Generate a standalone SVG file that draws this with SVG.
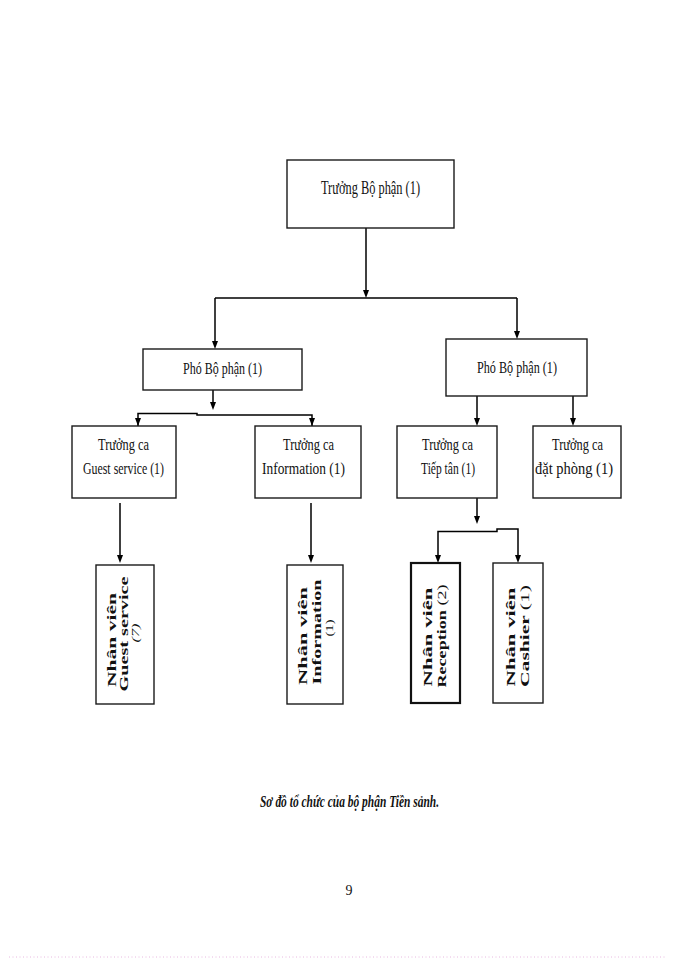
<svg xmlns="http://www.w3.org/2000/svg" width="700" height="960" viewBox="0 0 700 960">
<defs>
<style>
.box{fill:#fff;stroke:#1a1a1a;stroke-width:1.4}
.boxb{fill:#fff;stroke:#111;stroke-width:2.2}
.lbl{font-family:"Liberation Serif","Times New Roman",serif;fill:#111;text-anchor:middle}
.rot{font-family:"Liberation Serif","Times New Roman",serif;font-weight:bold;fill:#111;text-anchor:middle;font-size:12.5px}
.num{font-weight:normal;font-size:11px}
.ln{stroke:#000;stroke-width:1.5;fill:none}
.ah{fill:#000}
.cap{font-family:"Liberation Serif","Times New Roman",serif;font-weight:bold;font-style:italic;fill:#111;text-anchor:middle;font-size:17px}
</style>
</defs>
<rect width="700" height="960" fill="#fff"/>

<g id="connectors">
<path class="ln" d="M366,228 V290"/>
<path class="ah" d="M363,290 L369,290 L366,298 Z"/>
<path class="ln" d="M215,298 H517" stroke-width="2"/>
<path class="ln" d="M215,298 V341"/>
<path class="ah" d="M212,341 L218,341 L215,349 Z"/>
<path class="ln" d="M517,298 V331"/>
<path class="ah" d="M514,331 L520,331 L517,339 Z"/>

<path class="ln" d="M213,390 V402"/>
<path class="ah" d="M210,402 L216,402 L213,410 Z"/>
<path class="ln" d="M138,426 V413.5 H197 V415 H312 V426" stroke-width="1.6"/>
<path class="ah" d="M135,418 L141,418 L138,426 Z"/>
<path class="ah" d="M309,418 L315,418 L312,426 Z"/>

<path class="ln" d="M477,396 V418"/>
<path class="ah" d="M474,418 L480,418 L477,426 Z"/>
<path class="ln" d="M573,396 V418"/>
<path class="ah" d="M570,418 L576,418 L573,426 Z"/>

<path class="ln" d="M120,503 V555" stroke-width="1"/>
<path class="ah" d="M117,555 L123,555 L120,563 Z"/>
<path class="ln" d="M311,503 V555" stroke-width="1.8"/>
<path class="ah" d="M308,555 L314,555 L311,563 Z"/>

<path class="ln" d="M477,498 V516"/>
<path class="ah" d="M474,516 L480,516 L477,524 Z"/>
<path class="ln" d="M438,555 V531.5 H497 V529 H518 V555" stroke-width="1.8"/>
<path class="ah" d="M435,555 L441,555 L438,563 Z"/>
<path class="ah" d="M515,555 L521,555 L518,563 Z"/>
</g>

<g id="truong-bo-phan">
<rect class="box" x="287" y="160" width="167" height="68"/>
<text class="lbl" x="370.5" y="194" font-size="18" textLength="99" lengthAdjust="spacingAndGlyphs">Trưởng Bộ phận (1)</text>
</g>

<g id="pho-bo-phan-1">
<rect class="box" x="143" y="349" width="159" height="41"/>
<text class="lbl" x="222.5" y="374" font-size="17" textLength="79" lengthAdjust="spacingAndGlyphs">Phó Bộ phận (1)</text>
</g>

<g id="pho-bo-phan-2">
<rect class="box" x="446" y="339" width="141" height="57"/>
<text class="lbl" x="517" y="373" font-size="17" textLength="80" lengthAdjust="spacingAndGlyphs">Phó Bộ phận (1)</text>
</g>

<g id="truong-ca-guest">
<rect class="box" x="72" y="426" width="104" height="72"/>
<text class="lbl" x="123.5" y="450" font-size="17" textLength="51" lengthAdjust="spacingAndGlyphs">Trưởng ca</text>
<text class="lbl" x="123.5" y="474" font-size="17" textLength="81" lengthAdjust="spacingAndGlyphs">Guest service (1)</text>
</g>

<g id="truong-ca-information">
<rect class="box" x="255" y="426" width="106" height="72"/>
<text class="lbl" x="308.5" y="450" font-size="17" textLength="51" lengthAdjust="spacingAndGlyphs">Trưởng ca</text>
<text class="lbl" x="303.5" y="474" font-size="17" textLength="83" lengthAdjust="spacingAndGlyphs">Information (1)</text>
</g>

<g id="truong-ca-tiep-tan">
<rect class="box" x="397" y="426" width="100" height="72"/>
<text class="lbl" x="447.5" y="450" font-size="17" textLength="51" lengthAdjust="spacingAndGlyphs">Trưởng ca</text>
<text class="lbl" x="448" y="474" font-size="17" textLength="54" lengthAdjust="spacingAndGlyphs">Tiếp tân (1)</text>
</g>

<g id="truong-ca-dat-phong">
<rect class="box" x="533" y="426" width="88" height="72"/>
<text class="lbl" x="577.5" y="450" font-size="17" textLength="51" lengthAdjust="spacingAndGlyphs">Trưởng ca</text>
<text class="lbl" x="574" y="474" font-size="17" textLength="78" lengthAdjust="spacingAndGlyphs">đặt phòng (1)</text>
</g>

<g id="nv-guest-service">
<rect class="box" x="96" y="565" width="58" height="139"/>
<text class="rot" transform="translate(116,640) rotate(-90)" textLength="94" lengthAdjust="spacingAndGlyphs">Nhân viên</text>
<text class="rot" transform="translate(128,634) rotate(-90)" textLength="115" lengthAdjust="spacingAndGlyphs">Guest service</text>
<text class="rot num" transform="translate(139,633) rotate(-90)" style="font-style:italic" textLength="19" lengthAdjust="spacingAndGlyphs">(7)</text>
</g>

<g id="nv-information">
<rect class="box" x="287" y="565" width="56" height="139"/>
<text class="rot" transform="translate(307,636) rotate(-90)" textLength="98" lengthAdjust="spacingAndGlyphs">Nhân viên</text>
<text class="rot" transform="translate(320.5,632) rotate(-90)" textLength="105" lengthAdjust="spacingAndGlyphs">Information</text>
<text class="rot num" transform="translate(333,628) rotate(-90)" textLength="17" lengthAdjust="spacingAndGlyphs">(1)</text>
</g>

<g id="nv-reception">
<rect class="boxb" x="411" y="563" width="49" height="140"/>
<text class="rot" transform="translate(432,637) rotate(-90)" textLength="99" lengthAdjust="spacingAndGlyphs">Nhân viên</text>
<text class="rot" transform="translate(445.5,636) rotate(-90)" textLength="103" lengthAdjust="spacingAndGlyphs">Reception <tspan style="font-weight:normal">(2)</tspan></text>
</g>

<g id="nv-cashier">
<rect class="box" x="493" y="563" width="50" height="140"/>
<text class="rot" transform="translate(515,637) rotate(-90)" textLength="99" lengthAdjust="spacingAndGlyphs">Nhân viên</text>
<text class="rot" transform="translate(528.5,636) rotate(-90)" textLength="102" lengthAdjust="spacingAndGlyphs">Cashier <tspan style="font-weight:normal">(1)</tspan></text>
</g>

<text class="cap" x="349.5" y="807" textLength="179" lengthAdjust="spacingAndGlyphs">Sơ đồ tổ chức của bộ phận Tiền sảnh.</text>
<text class="lbl" x="349" y="895" font-size="14">9</text>
<line x1="9" y1="957" x2="667" y2="957" stroke="#e8b8e0" stroke-width="1" stroke-dasharray="1,2.5"/>
</svg>
